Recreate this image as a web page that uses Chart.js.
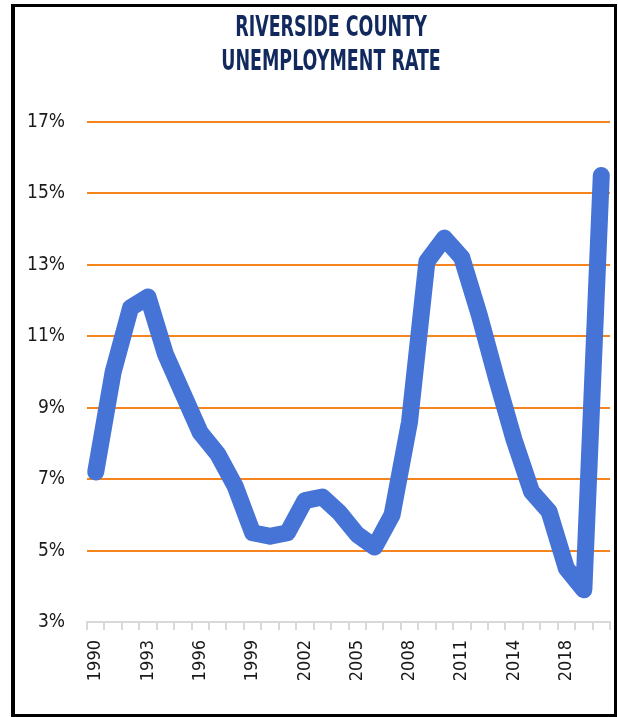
<!DOCTYPE html>
<html>
<head>
<meta charset="utf-8">
<script src="https://cdn.jsdelivr.net/npm/chart.js@4.4.1/dist/chart.umd.min.js"></script>
<style>
    html, body { margin: 0; padding: 0; background: #fff; }
    #wrap { position: relative; width: 618px; height: 717px; overflow: hidden; }
    #frame {
        position: absolute; left: 11px; top: 4px; width: 606px; height: 713px;
        box-sizing: border-box; border: 3px solid #000; border-left-width: 4px;
    }
    #title {
        position: absolute; left: 131px; top: 9px; width: 400px;
        text-align: center; line-height: 36px;
        font: bold 29px "Liberation Sans Narrow", "DejaVu Sans Condensed", sans-serif;
        color: #12295e; transform: scaleX(0.67); transform-origin: center top;
    }
    #chart { position: absolute; left: 0; top: 0; }
</style>
</head>
<body>
<div id="wrap">
    <div id="frame"></div>
    <canvas id="chart" width="618" height="717"></canvas>
    <div id="title">RIVERSIDE COUNTY<br>UNEMPLOYMENT RATE</div>
</div>
<script>
// annual rate, percent
const years = [
    '1990', '1991', '1992', '1993', '1994', '1995', '1996', '1997', '1998', '1999',
    '2000', '2001', '2002', '2003', '2004', '2005', '2006', '2007', '2008', '2009',
    '2010', '2011', '2012', '2013', '2014', '2016', '2017', '2018', '2019', '2020'
];
const rates = [
    7.2, 10.0, 11.8, 12.1, 10.5, 9.4, 8.3, 7.7, 6.8, 5.5,
    5.4, 5.5, 6.4, 6.5, 6.05, 5.45, 5.1, 6.0, 8.6, 13.1,
    13.75, 13.2, 11.6, 9.8, 8.1, 6.65, 6.1, 4.5, 3.9, 15.5
];
const yMin = 3;
const yMax = 17;
const yStep = 2;
const labelEvery = 3;

const fontFamily = '"Liberation Sans Narrow", "DejaVu Sans Condensed", sans-serif';

new Chart(document.getElementById('chart'), {
    type: 'line',
    data: {
        labels: years,
        datasets: [{
            data: rates,
            borderColor: '#4573d6',
            borderWidth: 17,
            borderJoinStyle: 'round',
            borderCapStyle: 'round',
            pointRadius: 0,
            tension: 0,
            clip: false
        }]
    },
    options: {
        responsive: false,
        animation: false,
        devicePixelRatio: 1,
        layout: { padding: { top: 122, right: 8, bottom: 0, left: 0 } },
        plugins: {
            legend: { display: false },
            tooltip: { enabled: false }
        },
        scales: {
            x: {
                offset: true,
                afterFit: (scale) => {
                    scale.height = 95;
                    // rotated labels would otherwise push the plot in from the right
                    scale.paddingLeft = 0;
                    scale.paddingRight = 0;
                },
                grid: {
                    offset: true,
                    drawOnChartArea: false,
                    drawTicks: true,
                    tickLength: 8,
                    color: '#d9d9d9',
                    lineWidth: 2
                },
                border: { display: true, color: '#d9d9d9', width: 2 },
                ticks: {
                    autoSkip: false,
                    minRotation: 90,
                    maxRotation: 90,
                    padding: 10,
                    color: '#1a1a1a',
                    font: { family: fontFamily, size: 18 },
                    callback: (v, i) => (i % labelEvery === 0 ? years[i] : '')
                }
            },
            y: {
                min: yMin,
                max: yMax,
                afterFit: (scale) => { scale.width = 87; },
                grid: {
                    drawTicks: false,
                    lineWidth: 2,
                    color: (ctx) => (ctx.tick && ctx.tick.value === yMin ? 'rgba(0,0,0,0)' : '#f5841f')
                },
                border: { display: false },
                ticks: {
                    stepSize: yStep,
                    padding: 22,
                    color: '#1a1a1a',
                    font: { family: fontFamily, size: 19 },
                    callback: (v) => v + '%'
                }
            }
        }
    }
});
</script>
</body>
</html>
